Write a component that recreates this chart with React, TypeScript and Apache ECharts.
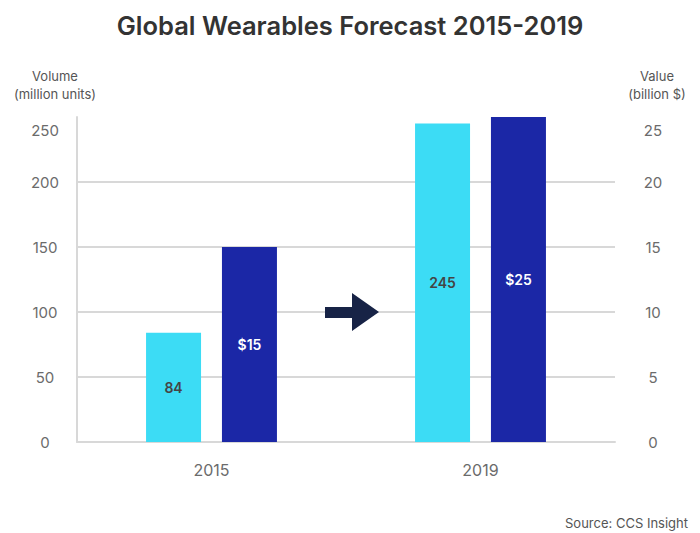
import React, { useEffect, useRef } from "react";
import * as echarts from "echarts";

// Forecast figures for global wearables
const years = ["2015", "2019"];
const volumeMillionUnits = [84, 245];
const valueBillionUsd = [15, 25];
const volumeGridValues = [50, 100, 150, 200];

const FONT = "Inter, 'Open Sans', sans-serif";
const TICK_COLOR = "#6b6b6b";
const GRID_COLOR = "#d8d8d8";

export default function App() {
  const ref = useRef<HTMLDivElement>(null);

  useEffect(() => {
    document.body.style.margin = "0";
    if (!ref.current) return;
    const chart = echarts.init(ref.current, null, { renderer: "svg" });

    const topLabel = (max: number) => (v: number) =>
      v === max ? `{t|${v}}` : `${v}`;

    chart.setOption({
      animation: false,
      textStyle: { fontFamily: FONT },
      title: [
        {
          text: "Global Wearables Forecast 2015-2019",
          left: "center",
          top: 7,
          textStyle: { fontSize: 25.5, fontWeight: 600, color: "#333", fontFamily: FONT },
        },
        {
          text: "Volume\n(million units)",
          left: 50,
          top: 62,
          textAlign: "center",
          textStyle: { fontSize: 13, fontWeight: "normal", color: "#555", lineHeight: 18, fontFamily: FONT },
        },
        {
          text: "Value\n(billion $)",
          left: 652,
          top: 62,
          textAlign: "center",
          textStyle: { fontSize: 13, fontWeight: "normal", color: "#555", lineHeight: 18, fontFamily: FONT },
        },
        {
          text: "Source: CCS Insight",
          right: 7,
          top: 511,
          textStyle: { fontSize: 13, fontWeight: "normal", color: "#555", fontFamily: FONT },
        },
      ],
      grid: { left: 77, right: 85, top: 117, bottom: 91, containLabel: false },
      xAxis: {
        type: "category",
        data: years,
        axisLine: { lineStyle: { color: GRID_COLOR, width: 2 } },
        axisTick: { show: false },
        axisLabel: { fontSize: 16, color: TICK_COLOR, margin: 20, fontFamily: FONT },
      },
      yAxis: [
        {
          type: "value",
          min: 0,
          max: 250,
          interval: 50,
          axisLine: { show: true, lineStyle: { color: GRID_COLOR, width: 2 } },
          axisTick: { show: false },
          splitLine: { show: false },
          axisLabel: {
            fontSize: 15,
            color: TICK_COLOR,
            align: "center",
            margin: 32,
            fontFamily: FONT,
            formatter: topLabel(250),
            rich: { t: { fontSize: 15, color: TICK_COLOR, padding: [26, 0, 0, 0], fontFamily: FONT } },
          },
        },
        {
          type: "value",
          min: 0,
          max: 25,
          interval: 5,
          position: "right",
          axisLine: { show: false },
          axisTick: { show: false },
          splitLine: { show: false },
          axisLabel: {
            fontSize: 15,
            color: TICK_COLOR,
            align: "center",
            margin: 38,
            fontFamily: FONT,
            formatter: topLabel(25),
            rich: { t: { fontSize: 15, color: TICK_COLOR, padding: [26, 0, 0, 0], fontFamily: FONT } },
          },
        },
      ],
      series: [
        {
          name: "Volume (million units)",
          type: "bar",
          yAxisIndex: 0,
          data: volumeMillionUnits,
          barWidth: 55,
          barGap: "38%",
          itemStyle: { color: "#3cdcf5" },
          label: {
            show: true,
            position: "inside",
            color: "#444",
            fontSize: 14,
            fontWeight: 600,
            fontFamily: FONT,
          },
          markLine: {
            silent: true,
            z: 1,
            symbol: "none",
            label: { show: false },
            lineStyle: { color: GRID_COLOR, width: 2, type: "solid" },
            data: volumeGridValues.map((v) => ({ yAxis: v })),
          },
        },
        {
          name: "Value (billion $)",
          type: "bar",
          yAxisIndex: 1,
          data: valueBillionUsd,
          barWidth: 55,
          itemStyle: { color: "#1b27a6" },
          label: {
            show: true,
            position: "inside",
            color: "#fff",
            fontSize: 14,
            fontWeight: 600,
            fontFamily: FONT,
            formatter: (p: any) => `$${p.value}`,
          },
        },
      ],
      graphic: [
        {
          // growth arrow between the two years
          type: "polygon",
          z: 10,
          shape: {
            points: [
              [325, 307],
              [352, 307],
              [352, 293],
              [379, 312],
              [352, 331],
              [352, 318],
              [325, 318],
            ],
          },
          style: { fill: "#172346" },
        },
      ],
    });

    return () => chart.dispose();
  }, []);

  return <div ref={ref} style={{ width: 700, height: 533 }} />;
}
